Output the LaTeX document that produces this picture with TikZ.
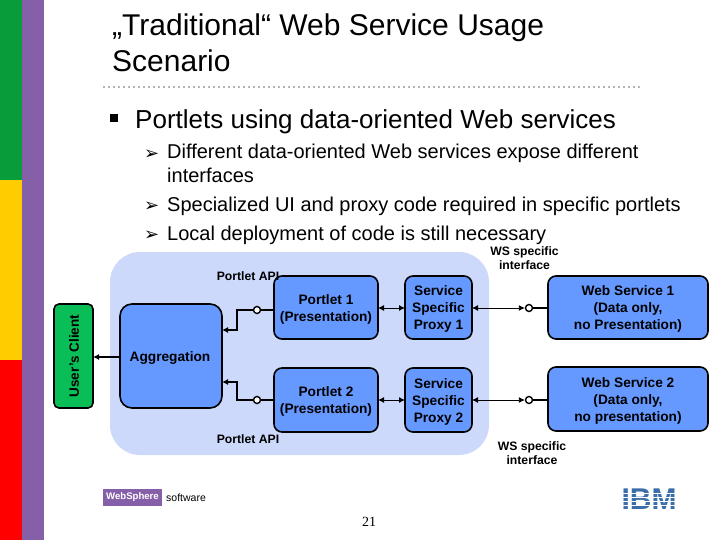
\documentclass[tikz,border=0pt]{standalone}
\usepackage{fontspec}
\setmainfont{Liberation Sans}
\newfontfamily\djv{DejaVu Sans}
\newfontfamily\tms{Liberation Serif}
\usetikzlibrary{arrows.meta}
\definecolor{stripgreen}{HTML}{089C3A}
\definecolor{stripyellow}{HTML}{FFCC00}
\definecolor{stripred}{HTML}{FF0000}
\definecolor{strippurple}{HTML}{855FA8}
\definecolor{boxblue}{HTML}{6699FF}
\definecolor{lightblue}{HTML}{CCD9FA}
\definecolor{clientgreen}{HTML}{09BE56}
\definecolor{ibmblue}{HTML}{3B6EA8}
\definecolor{dotgrey}{HTML}{B4B4B4}
\tikzset{
  x=1pt,y=-1pt,
  bx/.style={draw=black,line width=1.6pt,fill=boxblue,rounded corners=#1,inner sep=0pt,align=center,font=\fontsize{13.7}{17}\selectfont\bfseries\color{black}},
  bx/.default=8pt,
  titletext/.style={anchor=base west,inner sep=0pt,font=\fontsize{30}{30}\selectfont},
  bodytext/.style={anchor=base west,inner sep=0pt,font=\fontsize{20}{20}\selectfont},
  bmark/.style={anchor=base west,inner sep=0pt,font=\fontsize{18}{18}\selectfont\djv},
  smalltext/.style={inner sep=0pt,align=center,font=\fontsize{12.2}{14}\selectfont\bfseries},
  thickline/.style={line width=1.8pt,draw=black},
  thinline/.style={line width=0.9pt,draw=black},
  lollipop/.style={circle,draw=black,line width=1.4pt,fill=white,minimum size=7pt,inner sep=0pt},
  onetip/.style={-{Latex[length=6pt,width=6pt]}},
  twotips/.style={{Latex[length=6pt,width=6pt]}-{Latex[length=6pt,width=6pt]}}
}
\newcommand{\dropline}{\rule{0pt}{13pt}}
\begin{document}
\begin{tikzpicture}
\useasboundingbox (0,0) rectangle (720,540);
\fill[white] (0,0) rectangle (720,540);
\fill[stripgreen] (0,0) rectangle (22,180);
\fill[stripyellow] (0,180) rectangle (22,360);
\fill[stripred] (0,360) rectangle (22,540);
\fill[strippurple] (22,0) rectangle (44,540);
\node[titletext] (title) at (112,35.5) {„Traditional“ Web Service Usage};
\node[titletext] (title2) at (112,71.5) {Scenario};
\draw[dotgrey,line width=1.8pt,dash pattern=on 1.8pt off 3.2pt] (103,87) -- (640,87);
\node[anchor=center,inner sep=0pt,fill=black,minimum size=8pt] (sq) at (114,118) {};
\node[anchor=base west,inner sep=0pt,font=\fontsize{26}{26}\selectfont] (h1) at (135,129) {Portlets using data-oriented Web services};
\node[bmark] (m1) at (144,160) {➢};
\node[bodytext] (b1) at (167,158.7) {Different data-oriented Web services expose different};
\node[bodytext] (b1b) at (167,182.7) {interfaces};
\node[bmark] (m2) at (144,211.5) {➢};
\node[bodytext] (b2) at (167,211.7) {Specialized UI and proxy code required in specific portlets};
\node[bmark] (m3) at (144,240.5) {➢};
\node[bodytext] (b3) at (167,240.7) {Local deployment of code is still necessary};

\fill[lightblue,rounded corners=30pt] (110,252) rectangle (489,455);

\node[bx=5pt,fill=clientgreen,minimum width=39pt,minimum height=104pt] (client) at (73.5,356) {};
\node[rotate=90,inner sep=0pt,font=\fontsize{13.5}{14}\selectfont\bfseries] (clientt) at (74,356) {User's Client};
\node[bx=12pt,minimum width=102pt,minimum height=104pt] (agg) at (171,356) {};
\node[inner sep=0pt,font=\fontsize{13.7}{14}\selectfont\bfseries] (aggt) at (170,358) {Aggregation};
\node[bx,minimum width=104pt,minimum height=63pt] (p1) at (326,307.5) {\dropline Portlet 1\\(Presentation)};
\node[bx,minimum width=104pt,minimum height=64pt] (p2) at (326,400) {\dropline Portlet 2\\(Presentation)};
\node[bx,minimum width=67pt,minimum height=63pt] (s1) at (438.5,307.5) {\dropline Service\\Specific\\Proxy 1};
\node[bx,minimum width=67pt,minimum height=64pt] (s2) at (438.5,400) {\dropline Service\\Specific\\Proxy 2};
\node[bx,minimum width=160pt,minimum height=63pt] (w1) at (628,307.5) {\dropline Web Service 1\\(Data only,\\no Presentation)};
\node[bx,minimum width=160pt,minimum height=64pt] (w2) at (628,399) {\dropline Web Service 2\\(Data only,\\no presentation)};

\node[smalltext] (l1) at (248,276.5) {Portlet API};
\node[smalltext] (l2) at (248,439.5) {Portlet API};
\node[smalltext] (l3) at (524.5,258.5) {WS specific\\interface};
\node[smalltext] (l4) at (532,453) {WS specific\\interface};

\node[lollipop] (c1) at (257,310) {};
\node[lollipop] (c2) at (257,400) {};
\node[lollipop] (c3) at (529,308) {};
\node[lollipop] (c4) at (529,400) {};
\coordinate (a1) at (222,330);
\coordinate (a2) at (222,382);
\coordinate (s1l) at (405,308);
\coordinate (s2l) at (405,400);
\coordinate (p1r) at (378,308);
\coordinate (p2r) at (378,400);
\coordinate (s1r) at (472,308);
\coordinate (s2r) at (472,400);
\coordinate (w1l) at (548,308);
\coordinate (w2l) at (548,400);
\coordinate (p1l) at (274,310);
\coordinate (p2l) at (274,400);
\coordinate (aggout) at (120,357);
\coordinate (clientin) at (93,357);

\draw[thickline,onetip] (aggout) -- (clientin);
\draw[thickline] (p1l) -- (c1);
\draw[thickline] (p2l) -- (c2);
\draw[thickline,onetip] (c1) -- (237,310) -- (237,330) -- (a1);
\draw[thickline,onetip] (c2) -- (237,400) -- (237,382) -- (a2);
\draw[thinline,twotips] (p1r) -- (s1l);
\draw[thinline,twotips] (p2r) -- (s2l);
\draw[thinline,twotips] (s1r) -- (c3);
\draw[thinline,twotips] (s2r) -- (c4);
\draw[thickline] (w1l) -- (c3);
\draw[thickline] (w2l) -- (c4);

\node[fill=strippurple,inner sep=0pt,minimum width=59pt,minimum height=17pt,text=white,font=\fontsize{9.6}{10}\selectfont\bfseries] (ws) at (132.5,497.5) {WebSphere};
\node[anchor=west,inner sep=0pt,font=\fontsize{10.5}{10}\selectfont] (sw) at (166,497.5) {software};
\node[inner sep=0pt,font=\fontsize{14}{14}\selectfont\tms] (pg) at (369,522) {21};
\node[inner sep=0pt,text=ibmblue,font=\fontsize{30}{30}\selectfont\bfseries] (ibm) at (649,499.5) {IBM};
\foreach \yy in {493.5,497.5,501.5,505.5}{\draw[white,line width=1.2pt] (620,\yy) -- (678,\yy);}
\end{tikzpicture}
\end{document}
